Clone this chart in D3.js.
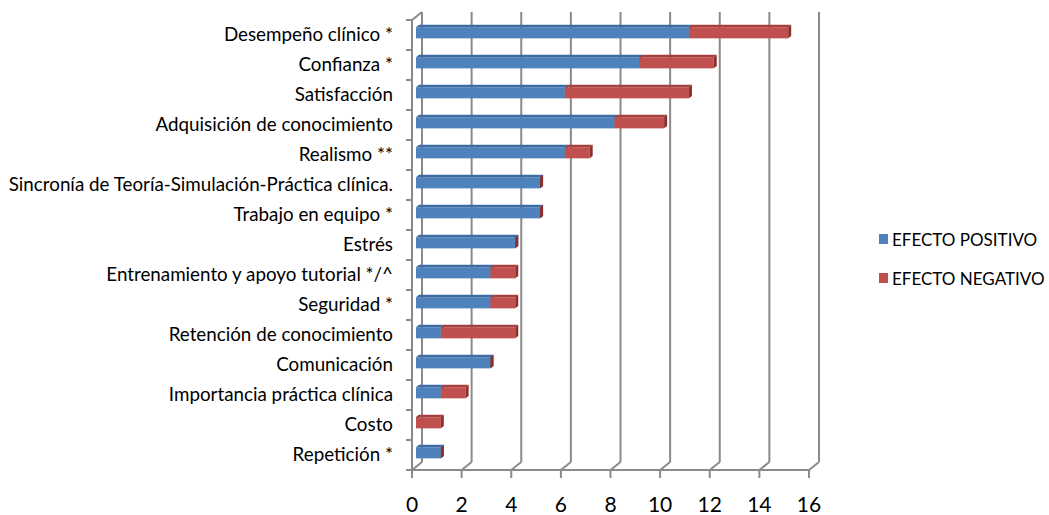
<!DOCTYPE html>
<html>
<head>
<meta charset="utf-8">
<script src="https://cdn.jsdelivr.net/npm/d3@7"></script>
<style>
  body { margin: 0; background: #fff; }
  text { font-family: Lato, "Open Sans", sans-serif; fill: #000; }
</style>
</head>
<body>
<script>
// data, top to bottom as in the chart
var categories = [
  "Desempeño clínico *",
  "Confianza *",
  "Satisfacción",
  "Adquisición de conocimiento",
  "Realismo **",
  "Sincronía de Teoría-Simulación-Práctica clínica.",
  "Trabajo en equipo *",
  "Estrés",
  "Entrenamiento y apoyo tutorial */^",
  "Seguridad *",
  "Retención de conocimiento",
  "Comunicación",
  "Importancia práctica clínica",
  "Costo",
  "Repetición *"
];
var positivo = [11, 9, 6, 8, 6, 5, 5, 4, 3, 3, 1, 3, 1, 0, 1];
var negativo = [4, 3, 5, 2, 1, 0, 0, 0, 1, 1, 3, 0, 1, 1, 0];
var seriesNames = ["EFECTO POSITIVO", "EFECTO NEGATIVO"];
var xTicks = [0, 2, 4, 6, 8, 10, 12, 14, 16];

var width = 1049,
    height = 515,
    xLeft = 412, xRight = 809,
    yTop = 20, yBottom = 470,
    dx = 10, dy = -8;   // depth of the 3d box

var faces = [
  { front: "#4F81BD", top: "#3D6CA5", side: "#2E5583" },
  { front: "#C0504D", top: "#A5403D", side: "#8A2F2C" }
];

var svg = d3.select("body").append("svg")
  .attr("width", width)
  .attr("height", height);

var x = d3.scaleLinear().domain([0, 16]).range([xLeft, xRight]);
var y = d3.scaleBand().domain(categories).range([yTop, yBottom])
  .paddingInner(0.63).paddingOuter(0.315);
var step = y.step();

var gridColor = "#8a8a8a";
var axes = svg.append("g")
  .attr("stroke", gridColor)
  .attr("stroke-width", 2)
  .attr("fill", "none");

// back wall gridlines
axes.selectAll(".grid")
  .data(xTicks)
  .enter().append("line")
  .attr("x1", d => x(d) + dx).attr("x2", d => x(d) + dx)
  .attr("y1", yTop + dy).attr("y2", yBottom + dy);

// floor slants
axes.selectAll(".slant")
  .data(xTicks)
  .enter().append("line")
  .attr("x1", d => x(d)).attr("y1", yBottom)
  .attr("x2", d => x(d) + dx).attr("y2", yBottom + dy);

// floor front edge + ticks
axes.append("line")
  .attr("x1", xLeft).attr("x2", xRight)
  .attr("y1", yBottom).attr("y2", yBottom);
axes.selectAll(".xtick")
  .data(xTicks)
  .enter().append("line")
  .attr("x1", d => x(d)).attr("x2", d => x(d))
  .attr("y1", yBottom).attr("y2", yBottom + 8);

// left wall
axes.append("line")
  .attr("x1", xLeft).attr("x2", xLeft)
  .attr("y1", yTop).attr("y2", yBottom);
axes.append("line")
  .attr("x1", xLeft).attr("y1", yTop)
  .attr("x2", xLeft + dx).attr("y2", yTop + dy);
axes.selectAll(".ytick")
  .data(d3.range(categories.length + 1))
  .enter().append("line")
  .attr("x1", xLeft - 6).attr("x2", xLeft)
  .attr("y1", i => yTop + i * step).attr("y2", i => yTop + i * step);

// bars
var d0 = 0.4, thick = 0.3;
var ox = dx * d0, oy = dy * d0, tx = dx * thick, ty = dy * thick;
var bw = y.bandwidth();

var segs = [];
categories.forEach(function (c, i) {
  segs.push({ c: c, s: 0, v0: 0, v1: positivo[i] });
  segs.push({ c: c, s: 1, v0: positivo[i], v1: positivo[i] + negativo[i] });
});

var bars = svg.append("g");
segs.forEach(function (d) {
  var fx0 = x(d.v0) + ox, fx1 = x(d.v1) + ox;
  var fy0 = y(d.c) + oy + 1, fy1 = fy0 + bw;
  var col = faces[d.s];
  var g = bars.append("g");
  if (d.v1 > d.v0) {
    g.append("rect")
      .attr("x", fx0).attr("y", fy0)
      .attr("width", fx1 - fx0).attr("height", bw)
      .attr("fill", col.front);
    g.append("path")
      .attr("d", `M${fx0},${fy0} L${fx1},${fy0} L${fx1 + tx},${fy0 + ty} L${fx0 + tx},${fy0 + ty} Z`)
      .attr("fill", col.top);
  }
  g.append("path")
    .attr("d", `M${fx1},${fy0} L${fx1 + tx},${fy0 + ty} L${fx1 + tx},${fy1 + ty} L${fx1},${fy1} Z`)
    .attr("fill", col.side);
});

// category labels
svg.append("g").selectAll("text")
  .data(categories)
  .enter().append("text")
  .attr("x", 393)
  .attr("y", d => y(d) + bw / 2 + 6)
  .attr("text-anchor", "end")
  .style("font-size", "18.8px")
  .text(d => d);

// x tick labels
svg.append("g").selectAll("text")
  .data(xTicks)
  .enter().append("text")
  .attr("x", d => x(d))
  .attr("y", 512)
  .attr("text-anchor", "middle")
  .style("font-size", "21px")
  .text(d => d);

// legend
var legend = svg.append("g").selectAll("g")
  .data(seriesNames)
  .enter().append("g")
  .attr("transform", (d, i) => `translate(879, ${234 + i * 39})`);
legend.append("rect")
  .attr("width", 9).attr("height", 10)
  .attr("fill", (d, i) => faces[i].front);
legend.append("text")
  .attr("x", 13).attr("y", 11.5)
  .style("font-size", "17px")
  .text(d => d);
</script>
</body>
</html>
